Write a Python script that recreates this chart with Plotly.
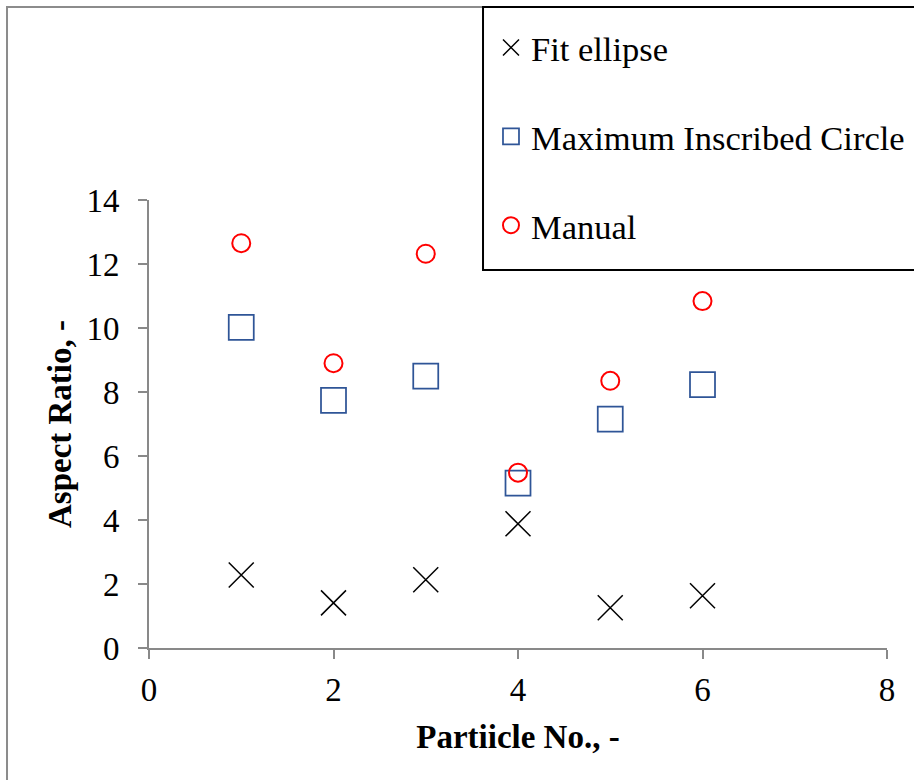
import plotly.graph_objects as go

# Particle numbers and measured aspect ratios for three methods
particles = [1, 2, 3, 4, 5, 6]
fit_ellipse = [2.28, 1.41, 2.13, 3.88, 1.26, 1.63]
max_inscribed_circle = [10.02, 7.74, 8.50, 5.15, 7.15, 8.23]
manual = [12.65, 8.90, 12.32, 5.48, 8.35, 10.84]

x_ticks = [0, 2, 4, 6, 8]
y_ticks = [0, 2, 4, 6, 8, 10, 12, 14]

FONT = "Times New Roman, Liberation Serif, serif"
AXIS_GREY = "#898989"

fig = go.Figure()

fig.add_trace(go.Scatter(
    x=particles, y=fit_ellipse, mode="markers", name="Fit ellipse",
    legendgroup="a",
    marker=dict(symbol="x-thin-open", size=25, color="black",
                line=dict(color="black", width=1.5)),
))
fig.add_trace(go.Scatter(
    x=particles, y=max_inscribed_circle, mode="markers",
    name="Maximum Inscribed Circle", legendgroup="b",
    marker=dict(symbol="square-open", size=25, color="#2F5597",
                line=dict(color="#2F5597", width=1.75)),
))
fig.add_trace(go.Scatter(
    x=particles, y=manual, mode="markers", name="Manual", legendgroup="c",
    marker=dict(symbol="circle-open", size=18, color="#FF0000",
                line=dict(color="#FF0000", width=2)),
))

# Chart-area frame and the legend box, both running off the right edge
fig.add_shape(type="rect", xref="paper", yref="paper",
              x0=-0.1924, x1=1.3, y0=-0.35, y1=1.4308,
              line=dict(color="#8c8c8c", width=2), layer="below")
fig.add_shape(type="rect", xref="paper", yref="paper",
              x0=0.4526, x1=1.3, y0=0.84375, y1=1.4308,
              line=dict(color="black", width=2), layer="above")

fig.update_layout(
    width=914, height=780,
    margin=dict(l=149, r=27, t=200, b=132, autoexpand=False),
    paper_bgcolor="white", plot_bgcolor="white",
    font=dict(family=FONT, color="black", size=32),
    showlegend=True,
    legend=dict(
        x=0.4634, xanchor="left", y=1.405, yanchor="top",
        font=dict(family=FONT, size=34.5, color="black"),
        bgcolor="rgba(0,0,0,0)", borderwidth=0,
        tracegroupgap=41, itemsizing="trace",
    ),
    xaxis=dict(
        range=[0, 8], tickvals=x_ticks, ticktext=[str(v) for v in x_ticks],
        showgrid=False, zeroline=False,
        showline=True, linecolor=AXIS_GREY, linewidth=2,
        ticks="outside", ticklen=9, tickwidth=2, tickcolor=AXIS_GREY,
        tickfont=dict(family=FONT, size=33, color="black"),
        ticklabelstandoff=2,
        title=dict(text="<b>Partiicle No., -</b>", standoff=18,
                   font=dict(family=FONT, size=33, color="black")),
        automargin=False,
    ),
    yaxis=dict(
        range=[0, 14], tickvals=y_ticks, ticktext=[str(v) for v in y_ticks],
        showgrid=False, zeroline=False,
        showline=True, linecolor=AXIS_GREY, linewidth=2,
        ticks="outside", ticklen=9, tickwidth=2, tickcolor=AXIS_GREY,
        tickfont=dict(family=FONT, size=33, color="black"),
        ticklabelstandoff=12,
        title=dict(text="<b>Aspect Ratio, -</b>", standoff=5,
                   font=dict(family=FONT, size=33, color="black")),
        automargin=False,
    ),
)

fig.write_html("out.html")
